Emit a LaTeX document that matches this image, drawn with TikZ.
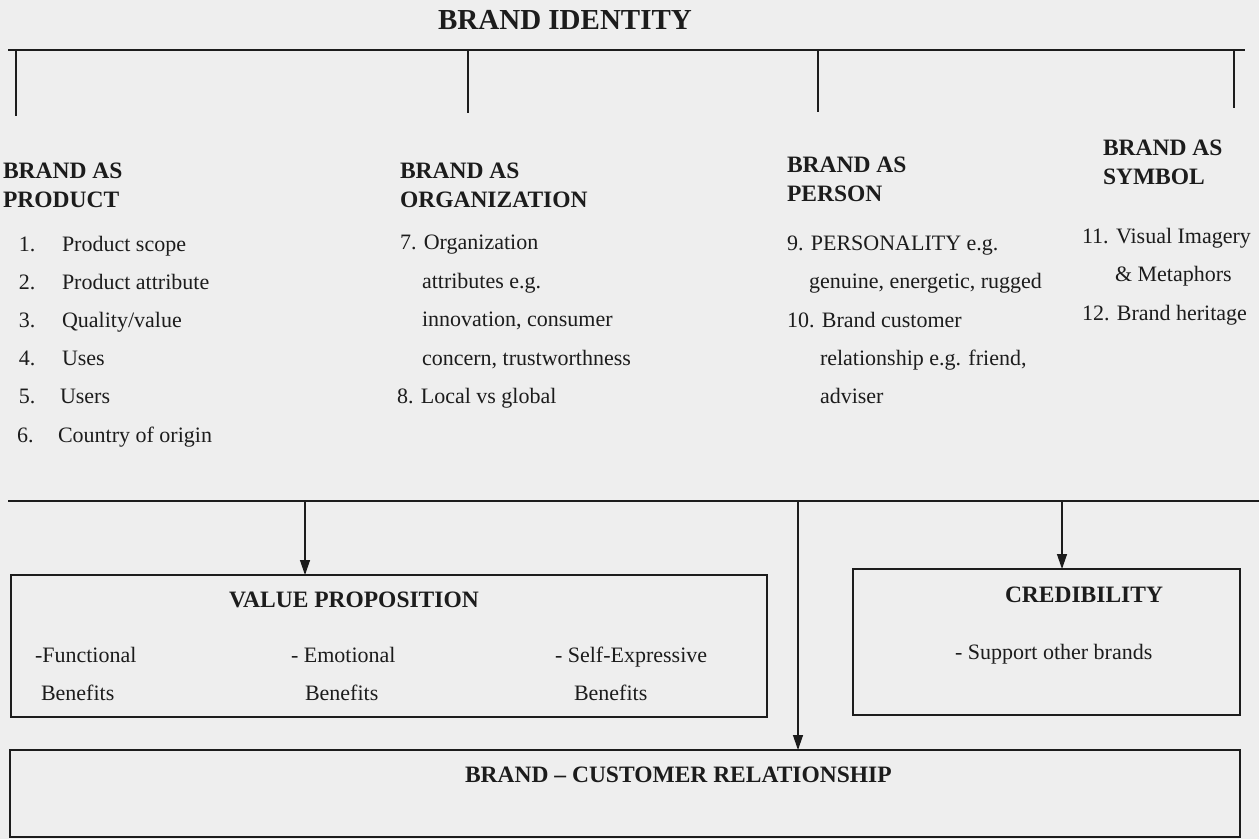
\documentclass[tikz,border=0pt]{standalone}
\usepackage{fontspec}
\setmainfont{Liberation Serif}
\usetikzlibrary{arrows.meta}
\definecolor{paper}{RGB}{238,238,238}
\definecolor{ink}{RGB}{28,28,28}
\begin{document}
\begin{tikzpicture}[x=1pt,y=-1pt,
  every node/.style={inner sep=0pt, outer sep=0pt, text=ink},
  body/.style={font=\fontsize{22}{26}\selectfont, anchor=west, text height=16pt, text depth=5pt},
  head/.style={font=\fontsize{23.5}{29}\selectfont\bfseries, anchor=west, align=left},
  boxtitle/.style={font=\fontsize{23.5}{28}\selectfont\bfseries},
  rule/.style={draw=ink, line width=2.2pt},
  tick/.style={draw=ink, line width=1.3pt},
  arr/.style={draw=ink, line width=1.3pt, -{Triangle[length=15pt,width=10pt]}},
  frame/.style={draw=ink, line width=2pt, rectangle}]
\fill[paper] (0,0) rectangle (1259,839);
\useasboundingbox (0,0) rectangle (1259,839);

% title and the bracket below it
\node[font=\fontsize{29}{34}\selectfont\bfseries] (id) at (565,20) {BRAND IDENTITY};
\coordinate (t0) at (8,50);
\coordinate (t1) at (1245,50);
\draw[rule] (t0) -- (t1);
\coordinate (b1) at (16,50);   \coordinate (e1) at (16,116);
\coordinate (b2) at (468,50);  \coordinate (e2) at (468,113);
\coordinate (b3) at (818,50);  \coordinate (e3) at (818,112);
\coordinate (b4) at (1234,50); \coordinate (e4) at (1234,108);
\draw[tick] (b1) -- (e1);
\draw[tick] (b2) -- (e2);
\draw[tick] (b3) -- (e3);
\draw[tick] (b4) -- (e4);

% column headings
\node[head] (hprod) at (3,185.5)   {BRAND AS\\PRODUCT};
\node[head] (horg)  at (400,185.5) {BRAND AS\\ORGANIZATION};
\node[head] (hpers) at (787,179)   {BRAND AS\\PERSON};
\node[head] (hsym)  at (1103,162)  {BRAND AS\\SYMBOL};

% brand as product
\node[body] (n1) at (19,246) {1.};  \node[body] (p1) at (62,246) {Product scope};
\node[body] (n2) at (19,284) {2.};  \node[body] (p2) at (62,284) {Product attribute};
\node[body] (n3) at (19,322) {3.};  \node[body] (p3) at (62,322) {Quality/value};
\node[body] (n4) at (19,360) {4.};  \node[body] (p4) at (62,360) {Uses};
\node[body] (n5) at (19,398) {5.};  \node[body] (p5) at (60,398) {Users};
\node[body] (n6) at (17,437) {6.};  \node[body] (p6) at (58,437) {Country of origin};

% brand as organization
\node[body] (o1) at (400,244) {7. Organization};
\node[body] (o2) at (422,283) {attributes e.g.};
\node[body] (o3) at (422,321) {innovation, consumer};
\node[body] (o4) at (422,360) {concern, trustworthness};
\node[body] (o5) at (397,398) {8. Local vs global};

% brand as person
\node[body] (r1) at (787,245) {9. PERSONALITY e.g.};
\node[body] (r2) at (809,283) {genuine, energetic, rugged};
\node[body] (r3) at (787,322) {10. Brand customer};
\node[body] (r4) at (820,360) {relationship e.g. friend,};
\node[body] (r5) at (820,398) {adviser};

% brand as symbol
\node[body] (s1) at (1082,238) {11. Visual Imagery};
\node[body] (s2) at (1115,276) {\& Metaphors};
\node[body] (s3) at (1082,315) {12. Brand heritage};

% second rule
\coordinate (m0) at (8,501);
\coordinate (m1) at (1259,501);
\draw[rule] (m0) -- (m1);

% boxes
\node[frame, minimum width=756pt, minimum height=142pt] (vp) at (389,646) {};
\node[frame, minimum width=387pt, minimum height=146pt] (cred) at (1046.5,642) {};
\node[frame, minimum width=1230pt, minimum height=87pt] (bcr) at (625,793.5) {};

% value proposition contents
\node[boxtitle] (vpt) at (354,600) {VALUE PROPOSITION};
\node[body] (v1) at (35,657) {-Functional};
\node[body] (v2) at (41,695) {Benefits};
\node[body] (v3) at (291,657) {- Emotional};
\node[body] (v4) at (305,695) {Benefits};
\node[body] (v5) at (555,657) {- Self-Expressive};
\node[body] (v6) at (574,695) {Benefits};

% credibility contents
\node[boxtitle] (crt) at (1084,595) {CREDIBILITY};
\node[body] (c1) at (955,654) {- Support other brands};

% relationship box title
\node[boxtitle, anchor=west] (bct) at (465,775) {BRAND – CUSTOMER RELATIONSHIP};

% arrows from the second rule
\coordinate (a1) at (305,501);
\coordinate (a2) at (798,501);
\coordinate (a3) at (1062,501);
\draw[arr] (a1) -- (a1 |- vp.north);
\draw[arr] (a2) -- (a2 |- bcr.north);
\draw[arr] (a3) -- (a3 |- cred.north);
\end{tikzpicture}
\end{document}
